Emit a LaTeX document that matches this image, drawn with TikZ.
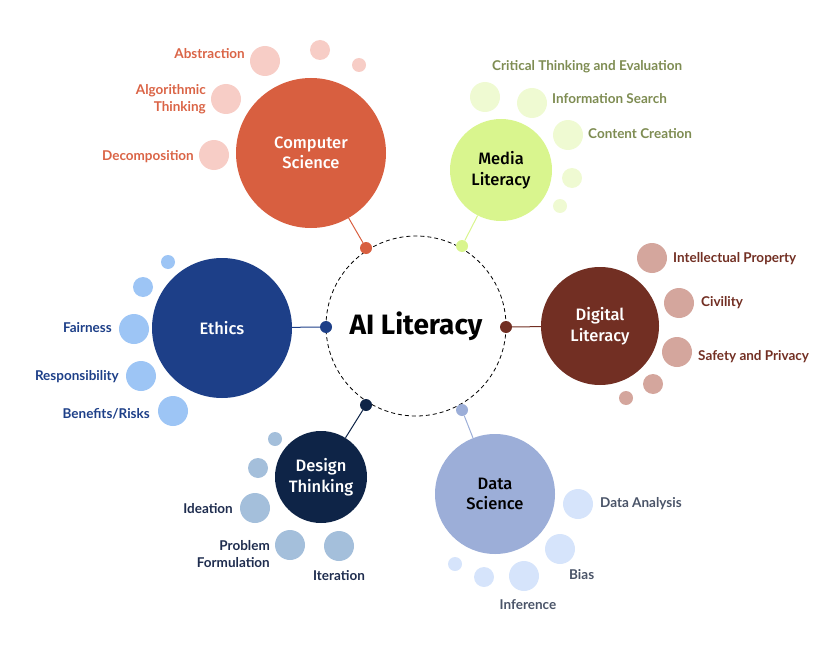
\documentclass[tikz,border=0pt]{standalone}
\usepackage{fontspec}
\setmainfont{Lato}
\newfontfamily\plex{Fira Sans}[UprightFont={* Medium},BoldFont={* Bold}]
\definecolor{csC}{HTML}{D85F40}
\definecolor{csL}{HTML}{F7CDC6}
\definecolor{csT}{HTML}{DA6446}
\definecolor{mlC}{HTML}{D9F58E}
\definecolor{mlL}{HTML}{EFFAD2}
\definecolor{mlT}{HTML}{7E8C52}
\definecolor{dlC}{HTML}{722F23}
\definecolor{dlL}{HTML}{D4A69D}
\definecolor{dlT}{HTML}{722F23}
\definecolor{etC}{HTML}{1D3F88}
\definecolor{etL}{HTML}{9DC5F5}
\definecolor{etT}{HTML}{1D3F88}
\definecolor{dtC}{HTML}{0E2447}
\definecolor{dtL}{HTML}{A4BFDB}
\definecolor{dtT}{HTML}{1F2D4F}
\definecolor{dsC}{HTML}{9CAED8}
\definecolor{dsL}{HTML}{D6E4FB}
\definecolor{dsT}{HTML}{4A5468}
\tikzset{
  mainc/.style={circle, inner sep=0pt, align=center, font=\plex\fontsize{16.5}{20.5}\selectfont},
  bub/.style={circle, inner sep=0pt},
  hub/.style={circle, inner sep=0pt, minimum size=12pt},
  lbl/.style={inner sep=0pt, font=\bfseries\fontsize{13.5}{16.5}\selectfont},
  conn/.style={line width=1pt}
}
\begin{document}
\begin{tikzpicture}[x=1pt,y=-1pt]
\useasboundingbox (0,0) rectangle (840,650);
% central
\node[circle, draw=black, dashed, dash pattern=on 4pt off 3pt, line width=0.8pt, minimum size=180pt, inner sep=0pt,
  font=\plex\bfseries\fontsize{28}{32}\selectfont] (ai) at (416,326) {AI Literacy};
% hubs
\node[hub, fill=csC] (hcs) at (366,248) {};
\node[hub, fill=mlC] (hml) at (462,246) {};
\node[hub, fill=etC] (het) at (326,327) {};
\node[hub, fill=dlC] (hdl) at (506,327) {};
\node[hub, fill=dtC] (hdt) at (366,405) {};
\node[hub, fill=dsC] (hds) at (462,410) {};
% main circles
\node[mainc, fill=csC, text=white, minimum size=150pt] (cs) at (311,153) {Computer\\Science};
\node[mainc, fill=mlC, text=black, minimum size=102pt] (ml) at (501,170) {Media\\Literacy};
\node[mainc, fill=dlC, text=white, minimum size=118pt] (dl) at (600,326) {Digital\\Literacy};
\node[mainc, fill=etC, text=white, minimum size=140pt] (et) at (222,328) {Ethics};
\node[mainc, fill=dtC, text=white, minimum size=92pt] (dt) at (321,477) {Design\\Thinking};
\node[mainc, fill=dsC, text=black, minimum size=120pt] (ds) at (495,494) {Data\\Science};
% connectors
\draw[conn, csC] (hcs) -- (cs);
\draw[conn, mlC] (hml) -- (ml);
\draw[conn, etC] (het) -- (et);
\draw[conn, dlC] (hdl) -- (dl);
\draw[conn, dtC] (hdt) -- (dt);
\draw[conn, dsC] (hds) -- (ds);
% CS bubbles
\node[bub, fill=csL, minimum size=30pt] (cs1) at (265,61) {};
\node[bub, fill=csL, minimum size=20pt] (cs2) at (320,50) {};
\node[bub, fill=csL, minimum size=14pt] (cs3) at (359,65) {};
\node[bub, fill=csL, minimum size=30pt] (cs4) at (226,99) {};
\node[bub, fill=csL, minimum size=30pt] (cs5) at (214,155) {};
\node[lbl, text=csT, anchor=east] (lcs1) at (245,54) {Abstraction};
\node[lbl, text=csT, anchor=east, align=right] (lcs2) at (206,99) {Algorithmic\\Thinking};
\node[lbl, text=csT, anchor=east] (lcs3) at (194,157) {Decomposition};
% ML bubbles
\node[bub, fill=mlL, minimum size=30pt] (ml1) at (485,97) {};
\node[bub, fill=mlL, minimum size=30pt] (ml2) at (532,103) {};
\node[bub, fill=mlL, minimum size=30pt] (ml3) at (568,135) {};
\node[bub, fill=mlL, minimum size=20pt] (ml4) at (572,178) {};
\node[bub, fill=mlL, minimum size=14pt] (ml5) at (560,206) {};
\node[lbl, text=mlT, anchor=west] (lml1) at (492,67) {Critical Thinking and Evaluation};
\node[lbl, text=mlT, anchor=west] (lml2) at (552,99) {Information Search};
\node[lbl, text=mlT, anchor=west] (lml3) at (588,134) {Content Creation};
% DL bubbles
\node[bub, fill=dlL, minimum size=30pt] (dl1) at (652,258) {};
\node[bub, fill=dlL, minimum size=30pt] (dl2) at (679,303) {};
\node[bub, fill=dlL, minimum size=30pt] (dl3) at (677,352) {};
\node[bub, fill=dlL, minimum size=20pt] (dl4) at (653,384) {};
\node[bub, fill=dlL, minimum size=14pt] (dl5) at (626,398) {};
\node[lbl, text=dlT, anchor=west] (ldl1) at (673,259) {Intellectual Property};
\node[lbl, text=dlT, anchor=west] (ldl2) at (701,303) {Civility};
\node[lbl, text=dlT, anchor=west] (ldl3) at (698,357) {Safety and Privacy};
% Ethics bubbles
\node[bub, fill=etL, minimum size=14pt] (et1) at (168,262) {};
\node[bub, fill=etL, minimum size=20pt] (et2) at (143,287) {};
\node[bub, fill=etL, minimum size=30pt] (et3) at (134,329) {};
\node[bub, fill=etL, minimum size=30pt] (et4) at (141,376) {};
\node[bub, fill=etL, minimum size=30pt] (et5) at (173,411) {};
\node[lbl, text=etT, anchor=east] (let1) at (112,328) {Fairness};
\node[lbl, text=etT, anchor=east] (let2) at (119,377) {Responsibility};
\node[lbl, text=etT, anchor=east] (let3) at (150,414) {Benefits/Risks};
% DT bubbles
\node[bub, fill=dtL, minimum size=14pt] (dt1) at (275,439) {};
\node[bub, fill=dtL, minimum size=20pt] (dt2) at (258,468) {};
\node[bub, fill=dtL, minimum size=30pt] (dt3) at (255,508) {};
\node[bub, fill=dtL, minimum size=30pt] (dt4) at (290,545) {};
\node[bub, fill=dtL, minimum size=30pt] (dt5) at (339,546) {};
\node[lbl, text=dtT, anchor=east] (ldt1) at (233,509) {Ideation};
\node[lbl, text=dtT, anchor=east, align=right] (ldt2) at (270,554) {Problem\\Formulation};
\node[lbl, text=dtT] (ldt3) at (339,576) {Iteration};
% DS bubbles
\node[bub, fill=dsL, minimum size=30pt] (ds1) at (578,504) {};
\node[bub, fill=dsL, minimum size=30pt] (ds2) at (560,549) {};
\node[bub, fill=dsL, minimum size=30pt] (ds3) at (524,576) {};
\node[bub, fill=dsL, minimum size=20pt] (ds4) at (484,577) {};
\node[bub, fill=dsL, minimum size=14pt] (ds5) at (455,564) {};
\node[lbl, text=dsT, anchor=west] (lds1) at (600,504) {Data Analysis};
\node[lbl, text=dsT, anchor=west] (lds2) at (569,575) {Bias};
\node[lbl, text=dsT] (lds3) at (528,605) {Inference};
\end{tikzpicture}
\end{document}
